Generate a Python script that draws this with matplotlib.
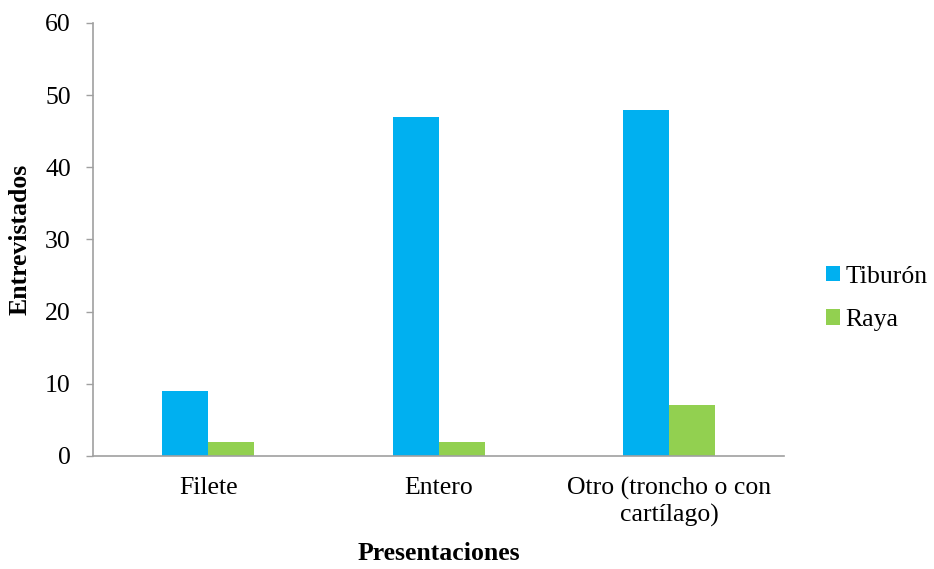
import numpy as np
import matplotlib.pyplot as plt

plt.rcParams['font.family'] = ['Liberation Serif', 'DejaVu Serif']

categorias = ['Filete', 'Entero', 'Otro (troncho o con\ncartílago)']
tiburon = [9, 47, 48]
raya = [2, 2, 7]

fig = plt.figure(figsize=(9.34, 5.69), dpi=100)
ax = fig.add_axes([0.0996, 0.1986, 0.7400, 0.7610])

x = np.arange(len(categorias))
w = 0.2
ax.bar(x - w / 2, tiburon, w, color='#00b0f0', label='Tiburón')
ax.bar(x + w / 2, raya, w, color='#92d050', label='Raya')

ax.set_xlim(-0.5, 2.5)
ax.set_ylim(0, 60)
ax.set_yticks(range(0, 61, 10))
ax.set_xticks(x)
ax.set_xticklabels(categorias, fontsize=18.5, linespacing=1.2)
ax.tick_params(axis='y', labelsize=18.5, direction='out', length=5,
               color='#a0a0a0', width=1, pad=11)
ax.tick_params(axis='x', length=0, pad=15)

for s in ['top', 'right']:
    ax.spines[s].set_visible(False)
for s in ['left', 'bottom']:
    ax.spines[s].set_color('#a0a0a0')
    ax.spines[s].set_linewidth(1.2)

ax.set_ylabel('Entrevistados', fontsize=18.5, fontweight='bold', labelpad=10)
ax.set_xlabel('Presentaciones', fontsize=18.5, fontweight='bold', labelpad=11)

ax.legend(loc='center left', bbox_to_anchor=(1.027, 0.364), frameon=False,
          fontsize=18.5, handlelength=0.55, handleheight=0.55, handletextpad=0.2,
          labelspacing=0.83)

fig.savefig('out.png', dpi=100)
